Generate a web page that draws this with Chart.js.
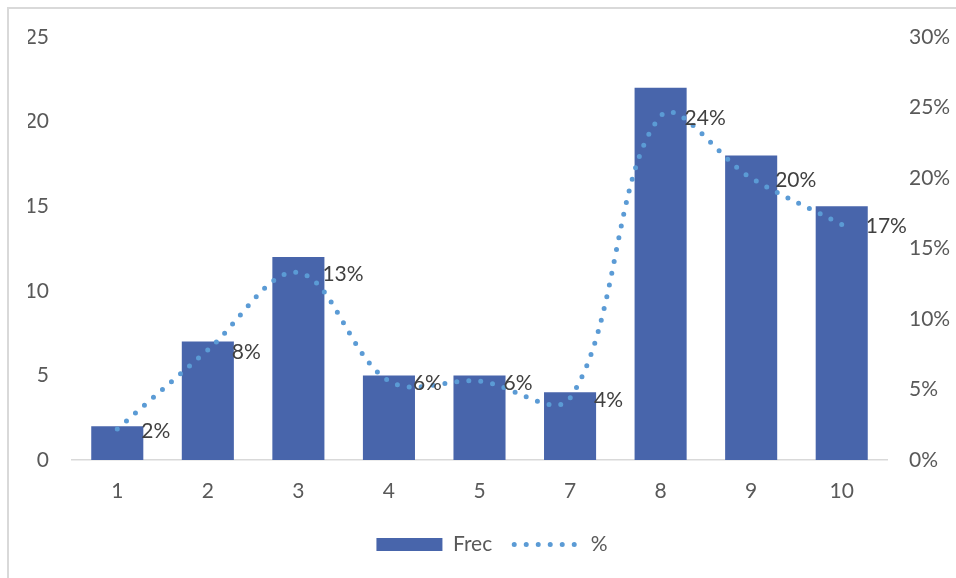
<!DOCTYPE html>
<html>
<head>
<meta charset="utf-8">
<script src="https://cdn.jsdelivr.net/npm/chart.js@4"></script>
<style>
  html, body { margin: 0; padding: 0; background: #ffffff; overflow: hidden; }
  #wrap { position: relative; width: 956px; height: 578px; }
  #frame { position: absolute; left: 7px; top: 7px; width: 1100px; height: 800px; border: 2px solid #D9D9D9; box-sizing: border-box; }
  #c { position: absolute; left: 0; top: 0; }
</style>
</head>
<body>
<div id="wrap">
  <div id="frame"></div>
  <canvas id="c" width="956" height="578"></canvas>
</div>
<script>
const categories = ['1', '2', '3', '4', '5', '7', '8', '9', '10'];
const frec = [2, 7, 12, 5, 5, 4, 22, 18, 15];
const pct = [2.2, 7.8, 13.3, 5.6, 5.6, 4.4, 24.4, 20.0, 16.7];
const leftTicks = [0, 5, 10, 15, 20, 25];
const rightTicks = [0, 5, 10, 15, 20, 25, 30];

const FONT = 'Lato, "Open Sans", sans-serif';
const FS = 21;
const TEXT = '#595959';
const BAR = '#4865AB';
const LINE = '#5B9BD5';

const pctLabels = {
  id: 'pctLabels',
  afterDatasetsDraw(chart) {
    const meta = chart.getDatasetMeta(1);
    const ctx = chart.ctx;
    ctx.save();
    ctx.font = FS + 'px ' + FONT;
    ctx.fillStyle = '#404040';
    ctx.textAlign = 'left';
    ctx.textBaseline = 'middle';
    meta.data.forEach((pt, i) => {
      ctx.fillText(Math.round(pct[i]) + '%', pt.x + 24, pt.y + 2);
    });
    ctx.restore();
  }
};

new Chart(document.getElementById('c'), {
  data: {
    labels: categories,
    datasets: [
      {
        type: 'bar',
        label: 'Frec',
        data: frec,
        yAxisID: 'y',
        backgroundColor: BAR,
        borderWidth: 0,
        categoryPercentage: 1,
        barPercentage: 0.575,
        order: 2
      },
      {
        type: 'line',
        label: '%',
        data: pct,
        yAxisID: 'y1',
        borderColor: LINE,
        backgroundColor: LINE,
        borderWidth: 5,
        borderDash: [0, 12],
        borderCapStyle: 'round',
        pointRadius: 0,
        tension: 0.35,
        fill: false,
        order: 1
      }
    ]
  },
  options: {
    responsive: false,
    devicePixelRatio: 1,
    animation: false,
    layout: { padding: { top: 37, left: 28, right: 0, bottom: 13 } },
    plugins: {
      tooltip: { enabled: false },
      legend: {
        position: 'bottom',
        labels: {
          usePointStyle: true,
          pointStyleWidth: 66,
          boxHeight: 13,
          padding: 22,
          color: TEXT,
          font: { family: FONT, size: FS },
          generateLabels(chart) {
            return [
              { text: 'Frec', datasetIndex: 0, pointStyle: 'rect', fillStyle: BAR, strokeStyle: BAR, lineWidth: 0, fontColor: TEXT, hidden: false },
              { text: '%', datasetIndex: 1, pointStyle: 'line', fillStyle: LINE, strokeStyle: LINE, lineWidth: 5, lineDash: [0, 12], lineCap: 'round', fontColor: TEXT, hidden: false }
            ];
          }
        }
      }
    },
    scales: {
      x: {
        type: 'category',
        offset: true,
        grid: { display: false, drawTicks: false },
        border: { display: true, color: '#D9D9D9', width: 1.5 },
        ticks: { color: TEXT, font: { family: FONT, size: FS }, padding: 19, maxRotation: 0 },
        afterFit(s) { s.height = 52; }
      },
      y: {
        position: 'left',
        min: 0, max: 25,
        afterBuildTicks(s) { s.ticks = leftTicks.map(v => ({ value: v })); },
        grid: { display: false, drawTicks: false },
        border: { display: false },
        ticks: { color: TEXT, font: { family: FONT, size: FS }, padding: 23 },
        afterFit(s) { s.width = 44; }
      },
      y1: {
        position: 'right',
        min: 0, max: 30,
        afterBuildTicks(s) { s.ticks = rightTicks.map(v => ({ value: v })); },
        grid: { display: false, drawTicks: false },
        border: { display: false },
        ticks: { color: TEXT, font: { family: FONT, size: FS }, padding: 22, callback: v => v + '%' },
        afterFit(s) { s.width = 69; }
      }
    }
  },
  plugins: [pctLabels]
});
</script>
</body>
</html>
